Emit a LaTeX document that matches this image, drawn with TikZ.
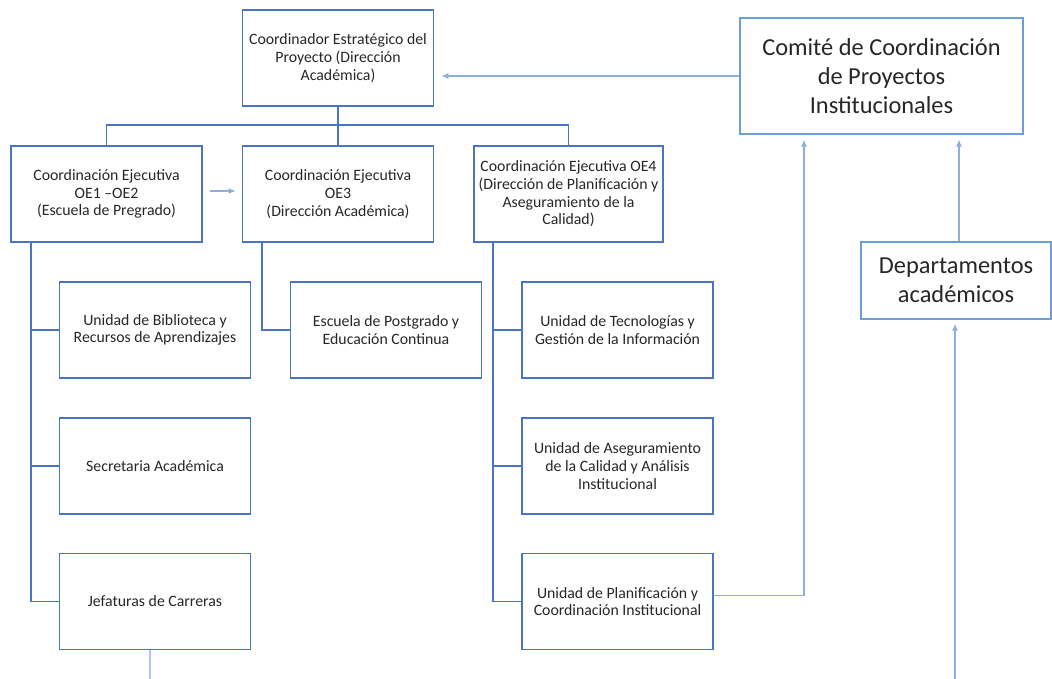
\documentclass[tikz,border=0pt]{standalone}
\usepackage{fontspec}
\setmainfont{Carlito}
\usetikzlibrary{arrows.meta}
\definecolor{orgblue}{HTML}{4A74C6}
\definecolor{lightblue}{HTML}{6A9FDA}
\definecolor{paleblue}{HTML}{8FAEDF}
\definecolor{txtgray}{HTML}{262626}
\tikzset{
  unitbox/.style={draw=orgblue, line width=1.6pt, text=txtgray, align=center,
    font=\fontsize{15.8}{17.7}\selectfont, inner sep=0pt,
    minimum width=191pt, minimum height=96pt},
  bigbox/.style={draw=lightblue, line width=1.3pt, text=txtgray, align=center,
    font=\fontsize{24.4}{29}\selectfont, inner sep=0pt},
  orgline/.style={draw=orgblue, line width=1.4pt},
  linkarrow/.style={draw=paleblue, line width=1.2pt, -{Latex[length=7pt,width=6pt]}}
}

\begin{document}
\begin{tikzpicture}[x=1pt, y=-1pt]
			%%%%% START %%%%%
			\useasboundingbox (0, 0) rectangle (1052, 679);
			
			\node[unitbox] (coord) at (338, 58) {Coordinador Estratégico del\\Proyecto (Dirección\\Académica)};
			
			\node[unitbox] (oe1) at (106.5, 194) {Coordinación Ejecutiva\\OE1 –OE2\\(Escuela de Pregrado)};
			\node[unitbox] (oe3) at (338, 194) {Coordinación Ejecutiva\\OE3\\(Dirección Académica)};
			\node[unitbox, minimum width=189pt] (oe4) at (568.5, 194) {Coordinación Ejecutiva OE4\\(Dirección de Planificación y\\Aseguramiento de la\\Calidad)};
			
			\node[bigbox, minimum width=283pt, minimum height=116pt] (comite) at (881.5, 76) {Comité de Coordinación\\de Proyectos\\Institucionales};
			\node[bigbox, minimum width=190pt, minimum height=77pt] (deptos) at (956, 280.5) {Departamentos\\académicos};
			
			\node[unitbox] (biblio) at (155, 330) {Unidad de Biblioteca y\\Recursos de Aprendizajes};
			\node[unitbox] (secret) at (155, 466) {Secretaria Académica};
			\node[unitbox] (jefat) at (155, 601.5) {Jefaturas de Carreras};
			
			\node[unitbox] (posgr) at (386, 330) {Escuela de Postgrado y\\Educación Continua};
			
			\node[unitbox] (tecno) at (617.5, 330) {Unidad de Tecnologías y\\Gestión de la Información};
			\node[unitbox] (asegu) at (617.5, 466) {Unidad de Aseguramiento\\de la Calidad y Análisis\\Institucional};
			\node[unitbox] (plani) at (617.5, 601.5) {Unidad de Planificación y\\Coordinación Institucional};
			
			% tree
			\draw[orgline] (coord.south) -- (oe3.north);
			\draw[orgline] (oe1.north) -- ++(0, -20) -| (oe4.north);
			
			\draw[orgline] (oe1.south -| 31, 0) |- (jefat.west);
			\draw[orgline] (biblio.west -| 31, 0) -- (biblio.west);
			\draw[orgline] (secret.west -| 31, 0) -- (secret.west);
			
			\draw[orgline] (oe3.south -| 262, 0) |- (posgr.west);
			
			\draw[orgline] (oe4.south -| 493, 0) |- (plani.west);
			\draw[orgline] (tecno.west -| 493, 0) -- (tecno.west);
			\draw[orgline] (asegu.west -| 493, 0) -- (asegu.west);
			
			% arrows
			\draw[linkarrow, shorten <=7pt, shorten >=6pt] ([yshift=3pt]oe1.east) -- ([yshift=3pt]oe3.west);
			\draw[linkarrow, shorten >=7pt] (comite.west) -- (comite.west -| coord.east);
			\draw[linkarrow, shorten >=5pt] ([yshift=6pt]plani.east) -| ([xshift=-77.5pt]comite.south);
			\draw[linkarrow, shorten >=5pt] ([xshift=3pt]deptos.north) -- ([xshift=77.5pt]comite.south);
			
			\coordinate (deptosin) at (955, 679);
			\draw[linkarrow, shorten >=4pt] (deptosin) -- (deptosin |- deptos.south);
			\coordinate (jefatout) at (150, 679);
			\draw[draw=paleblue!70, line width=1.4pt] (jefat.south -| jefatout) -- (jefatout);
			
			%%%%% END %%%%%
		\end{tikzpicture}
\end{document}
